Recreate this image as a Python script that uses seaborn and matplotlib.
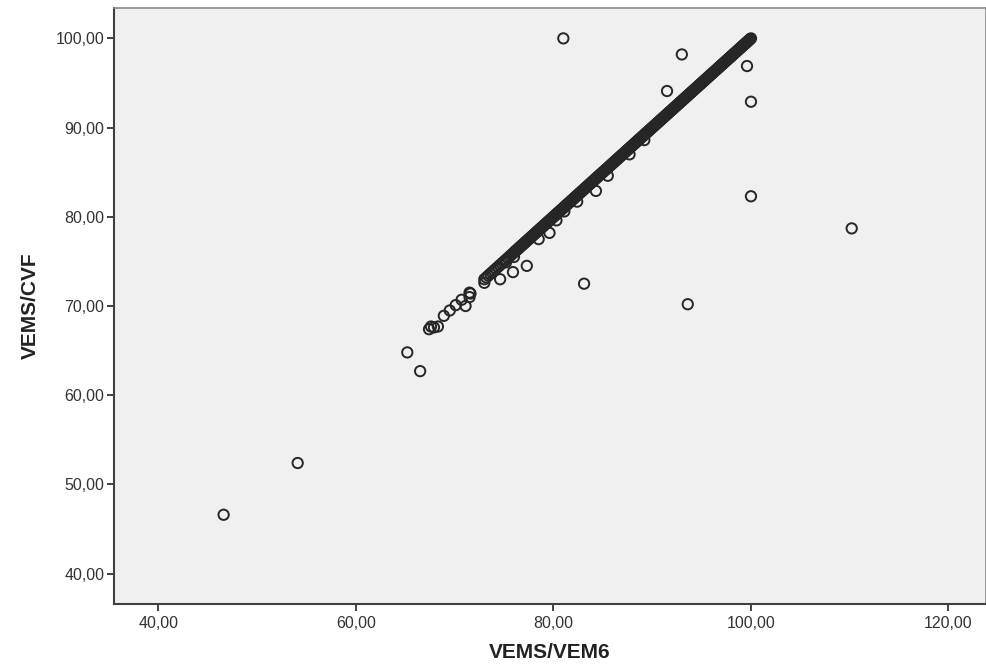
import matplotlib
matplotlib.use("Agg")
import matplotlib.pyplot as plt
from matplotlib.ticker import FuncFormatter
import seaborn as sns
import pandas as pd

# points lying on the identity line (VEM6 == CVF)
diag = [73.0, 73.2, 73.4, 73.6, 73.8, 74.0, 74.2, 74.4, 74.6, 74.8, 75.0, 75.2,
        75.4, 75.6, 75.8, 76.0,
        76.1, 76.2, 76.3, 76.4, 76.5, 76.6, 76.7, 76.8, 76.9, 77.0,
        77.1, 77.2, 77.3, 77.4, 77.5, 77.6, 77.7, 77.8, 77.9, 78.0,
        78.1, 78.2, 78.3, 78.4, 78.5, 78.6, 78.7, 78.8, 78.9, 79.0,
        79.1, 79.2, 79.3, 79.4, 79.5, 79.6, 79.7, 79.8, 79.9, 80.0,
        80.1, 80.2, 80.3, 80.4, 80.5, 80.6, 80.7, 80.8, 80.9, 81.0,
        81.1, 81.2, 81.3, 81.4, 81.5, 81.6, 81.7, 81.8, 81.9, 82.0,
        82.1, 82.2, 82.3, 82.4, 82.5, 82.6, 82.7, 82.8, 82.9, 83.0,
        83.1, 83.2, 83.3, 83.4, 83.5, 83.6, 83.7, 83.8, 83.9, 84.0,
        84.1, 84.2, 84.3, 84.4, 84.5, 84.6, 84.7, 84.8, 84.9, 85.0,
        85.1, 85.2, 85.3, 85.4, 85.5, 85.6, 85.7, 85.8, 85.9, 86.0,
        86.1, 86.2, 86.3, 86.4, 86.5, 86.6, 86.7, 86.8, 86.9, 87.0,
        87.1, 87.2, 87.3, 87.4, 87.5, 87.6, 87.7, 87.8, 87.9, 88.0,
        88.1, 88.2, 88.3, 88.4, 88.5, 88.6, 88.7, 88.8, 88.9, 89.0,
        89.1, 89.2, 89.3, 89.4, 89.5, 89.6, 89.7, 89.8, 89.9, 90.0,
        90.1, 90.2, 90.3, 90.4, 90.5, 90.6, 90.7, 90.8, 90.9, 91.0,
        91.1, 91.2, 91.3, 91.4, 91.5, 91.6, 91.7, 91.8, 91.9, 92.0,
        92.1, 92.2, 92.3, 92.4, 92.5, 92.6, 92.7, 92.8, 92.9, 93.0,
        93.1, 93.2, 93.3, 93.4, 93.5, 93.6, 93.7, 93.8, 93.9, 94.0,
        94.1, 94.2, 94.3, 94.4, 94.5, 94.6, 94.7, 94.8, 94.9, 95.0,
        95.1, 95.2, 95.3, 95.4, 95.5, 95.6, 95.7, 95.8, 95.9, 96.0,
        96.1, 96.2, 96.3, 96.4, 96.5, 96.6, 96.7, 96.8, 96.9, 97.0,
        97.1, 97.2, 97.3, 97.4, 97.5, 97.6, 97.7, 97.8, 97.9, 98.0,
        98.1, 98.2, 98.3, 98.4, 98.5, 98.6, 98.7, 98.8, 98.9, 99.0,
        99.1, 99.2, 99.3, 99.4, 99.5, 99.6, 99.7, 99.8, 99.9, 100.0]

# remaining points
vem6_other = [46.6, 54.1, 65.2, 66.5, 67.4, 67.6, 67.9, 68.3, 68.9, 69.5, 70.1,
              70.7, 71.1, 71.5, 71.5, 71.6, 73.0, 74.6, 75.2, 75.9, 76.0, 77.3,
              78.5, 79.6, 80.3, 81.1, 82.4, 83.1, 84.3, 85.5, 87.7, 89.2, 81.0,
              91.5, 93.0, 93.6, 99.6, 100.0, 100.0, 110.2]
cvf_other = [46.6, 52.4, 64.8, 62.7, 67.4, 67.7, 67.6, 67.7, 68.9, 69.5, 70.1,
             70.7, 70.0, 71.0, 71.5, 71.4, 72.6, 73.0, 74.9, 73.8, 75.5, 74.5,
             77.5, 78.2, 79.6, 80.6, 81.7, 72.5, 82.9, 84.6, 87.0, 88.6, 100.0,
             94.1, 98.2, 70.2, 96.9, 92.9, 82.3, 78.7]

df = pd.DataFrame({
    "VEMS/VEM6": diag + vem6_other,
    "VEMS/CVF": diag + cvf_other,
})

sns.set_style("white")
plt.rcParams["font.family"] = ["Liberation Sans", "DejaVu Sans"]

fig = plt.figure(figsize=(9.87, 6.71), dpi=100)
ax = fig.add_axes([0.1155, 0.0999, 0.8835, 0.8881])
ax.set_facecolor("#f0f0f0")

sns.scatterplot(data=df, x="VEMS/VEM6", y="VEMS/CVF", ax=ax, marker="o",
                s=55, facecolor="none", edgecolor="#262626", linewidth=1.4)

ax.set_xlim(35.5, 123.8)
ax.set_ylim(36.6, 103.4)
ax.set_xticks([40, 60, 80, 100, 120])
ax.set_yticks([40, 50, 60, 70, 80, 90, 100])
fmt = FuncFormatter(lambda v, p: f"{v:.2f}".replace(".", ","))
ax.xaxis.set_major_formatter(fmt)
ax.yaxis.set_major_formatter(fmt)

ax.tick_params(axis="both", direction="out", length=5, width=1.3,
               color="#333333", labelcolor="#333333", labelsize=11.5,
               bottom=True, left=True)
ax.tick_params(axis="x", pad=4)
ax.tick_params(axis="y", pad=2)

for side in ["left", "bottom"]:
    ax.spines[side].set_color("#404040")
    ax.spines[side].set_linewidth(1.5)
for side in ["top", "right"]:
    ax.spines[side].set_color("#8a8a8a")
    ax.spines[side].set_linewidth(1.2)

ax.set_xlabel("VEMS/VEM6", fontsize=15, fontweight="bold", color="#222222", labelpad=8)
ax.set_ylabel("VEMS/CVF", fontsize=15, fontweight="bold", color="#222222", labelpad=11)

plt.savefig("out.png", dpi=100)
